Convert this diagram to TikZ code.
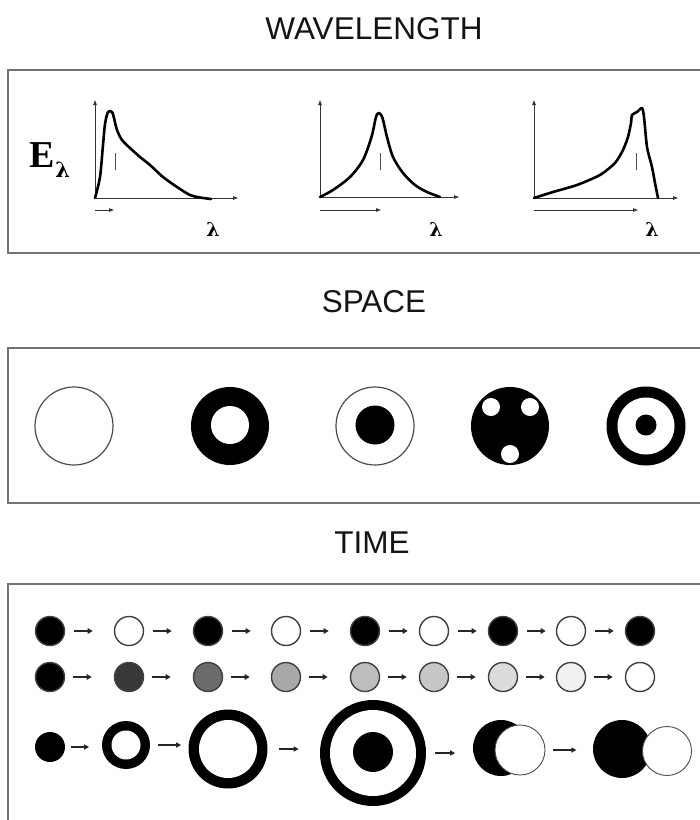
\documentclass[tikz,border=0pt]{standalone}
\usepackage{fontspec}
\setmainfont{Liberation Serif}
\newfontfamily\arialf{Liberation Sans}
\newfontfamily\lamf{DejaVu Serif}
\usetikzlibrary{arrows.meta}
\begin{document}
\begin{tikzpicture}[x=1pt,y=-1pt,
  frame/.style={draw=black!55,line width=1.6pt},
  title/.style={font=\arialf\fontsize{31.5}{36}\selectfont,inner sep=0pt,text=black!92},
  axis/.style={draw=black!80,line width=0.9pt,-{Triangle[length=5pt,width=3.5pt]}},
  small/.style={draw=black!80,line width=0.9pt,-{Triangle[length=5pt,width=3.5pt]}},
  tick/.style={draw=black!70,line width=0.9pt},
  curve/.style={line width=2.6pt,line join=round,line cap=round},
  lam/.style={font=\lamf\bfseries\fontsize{19}{19}\selectfont,inner sep=0pt},
  disc/.style={circle,inner sep=0pt,fill=black},
  hole/.style={circle,inner sep=0pt,fill=white},
  thinc/.style={circle,inner sep=0pt,fill=white,draw=black!70,line width=1.2pt},
  dot/.style={circle,inner sep=0pt,minimum size=29pt,draw=black!75,line width=1.4pt},
  tarr/.style={draw=black!85,line width=1.8pt,-{Triangle[length=5pt,width=5.5pt]}},
  tarrs/.style={draw=black!85,line width=1.4pt,-{Triangle[length=5pt,width=5pt]}}
]
\useasboundingbox (0,0) rectangle (700,820);
\clip (0,0) rectangle (700,820);
\fill[white] (0,0) rectangle (700,820);

% ---------- titles ----------
\node[title] (t1) at (374,28.5) {WAVELENGTH};
\node[title] (t2) at (374,302) {SPACE};
\node[title] (t3) at (372,543) {TIME};

% ---------- frames ----------
\draw[frame] (8,70) rectangle (720,253);
\draw[frame] (8,348) rectangle (720,503);
\draw[frame] (8,584) rectangle (720,840);

% ---------- wavelength ----------
\node[font=\bfseries\fontsize{38}{38}\selectfont,inner sep=0pt] (E) at (50,160)
  {E\raisebox{-0.28em}{\lamf\fontsize{21}{21}\selectfont λ}};

% graph 1
\draw[axis] (95,198) -- (95,100);
\draw[axis] (95,198) -- (238,198);
\draw[curve] plot[smooth,tension=0.5] coordinates {(95,198) (100,177) (103,145) (105,124)
  (108,112) (112,112) (114,118) (117,130) (122,140) (130,148) (140,157) (150,165)
  (163,177) (177,187) (190,195) (200,197.5) (211,199)};
\draw[tick] (115,153) -- (115,170);
\draw[small] (95,210) -- (114,210);
\node[lam] (l1) at (213,229) {λ};

% graph 2
\draw[axis] (320,197) -- (320,100);
\draw[axis] (320,197) -- (459,197);
\draw[curve] plot[smooth,tension=0.5] coordinates {(320,197) (333,190) (350,177) (363,160)
  (371.5,137) (376,117) (379,113) (382.5,118) (387,137) (393,157) (403,173)
  (415,185) (427,192) (440,197)};
\draw[tick] (380,153) -- (380,170);
\draw[small] (320,210) -- (381,210);
\node[lam] (l2) at (436,229) {λ};

% graph 3
\draw[axis] (534,198) -- (534,100);
\draw[axis] (534,198) -- (678,198);
\draw[curve] plot[smooth,tension=0.4] coordinates {(534,198) (553,192) (577,185) (600,175)
  (615,163) (623,150) (628,137) (631,123) (632,115) (637,112) (642,108) (644,117)
  (647,147) (652,167) (655,183) (658,198)};
\draw[tick] (636,153) -- (636,170);
\draw[small] (534,210) -- (638,210);
\node[lam] (l3) at (652,229) {λ};

% ---------- space ----------
\node[thinc,minimum size=78pt] (s1) at (74,426) {};
\node[disc,minimum size=78pt] (s2) at (230,426) {};
\node[hole,minimum size=38pt] (s2i) at (230,425) {};
\node[thinc,minimum size=78pt] (s3) at (375,426) {};
\node[disc,minimum size=39pt] (s3i) at (375,425) {};
\node[disc,minimum size=78pt] (s4) at (510,426) {};
\node[hole,minimum size=18pt] (s4a) at (491,407) {};
\node[hole,minimum size=18pt] (s4b) at (530,407) {};
\node[hole,minimum size=18pt] (s4c) at (510,454) {};
\node[disc,minimum size=79pt] (s5) at (646,426) {};
\node[hole,minimum size=57pt] (s5i) at (646,426) {};
\node[disc,minimum size=21pt] (s5c) at (646,425) {};

% ---------- time, row 1 ----------
\foreach \x/\f [count=\i] in {50/black,129/white,208/black,286/white,365/black,434/white,503/black,571/white,640/black}
  \node[dot,fill=\f] (a\i) at (\x,631) {};
\foreach \i in {1,...,8}
  \draw[tarr] ([xshift=8.5pt]a\i.east) -- ([xshift=27.5pt]a\i.east);

% ---------- time, row 2 ----------
\definecolor{g2}{gray}{0.22}
\definecolor{g3}{gray}{0.42}
\definecolor{g4}{gray}{0.66}
\definecolor{g5}{gray}{0.74}
\definecolor{g6}{gray}{0.78}
\definecolor{g7}{gray}{0.86}
\definecolor{g8}{gray}{0.94}
\foreach \x/\f [count=\i] in {50/black,129/g2,208/g3,286/g4,365/g5,434/g6,503/g7,571/g8,640/white}
  \node[dot,fill=\f] (b\i) at (\x,677) {};
\foreach \i in {1,...,8}
  \draw[tarr] ([xshift=7.5pt]b\i.east) -- ([xshift=26.5pt]b\i.east);

% ---------- time, row 3 ----------
\node[disc,minimum size=30pt] (c1) at (50,747) {};
\node[disc,minimum size=48pt] (c2) at (126,745) {};
\node[hole,minimum size=29pt] (c2i) at (126,745) {};
\node[disc,minimum size=79pt] (c3) at (228,749) {};
\node[hole,minimum size=58pt] (c3i) at (228,749) {};
\node[disc,minimum size=106pt] (c4) at (373,753) {};
\node[hole,minimum size=86pt] (c4i) at (373,753) {};
\node[disc,minimum size=40pt] (c4c) at (373,752) {};
\node[disc,minimum size=56pt] (c5) at (501,748) {};
\node[thinc,minimum size=50pt,line width=0.9pt] (c5w) at (520,750) {};
\node[disc,minimum size=58pt] (c6) at (622,749) {};
\node[thinc,minimum size=49pt,line width=0.9pt] (c6w) at (667,751) {};

\draw[tarrs] ([xshift=6pt]c1.east) -- ([xshift=24pt]c1.east);
\draw[tarrs] ([xshift=8pt]c2.east) -- ([xshift=31pt]c2.east);
\draw[tarrs] ([xshift=11pt]c3.east) -- ([xshift=31pt]c3.east);
\draw[tarrs] ([xshift=9pt]c4.east) -- ([xshift=29pt]c4.east);
\draw[tarrs] ([xshift=8pt]c5w.east) -- ([xshift=31pt]c5w.east);
\end{tikzpicture}
\end{document}
